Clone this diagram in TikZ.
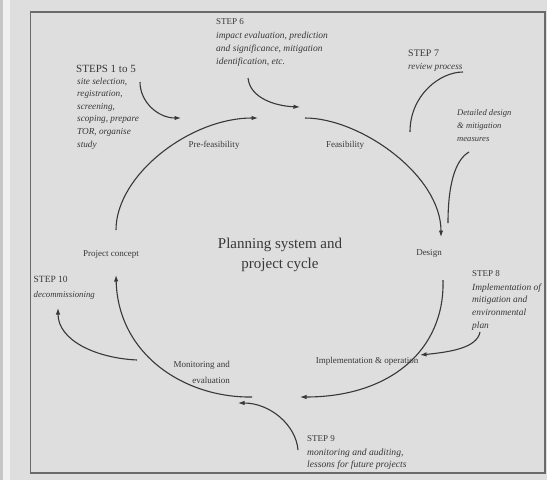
\documentclass[tikz,border=0pt]{standalone}
\usepackage{fontspec}
\setmainfont{Liberation Serif}
\usetikzlibrary{arrows.meta}
\definecolor{paper}{HTML}{DEDEDE}
\definecolor{stripA}{HTML}{C6C6C6}
\definecolor{stripB}{HTML}{F0F0F0}
\definecolor{ink}{HTML}{383838}
\definecolor{framec}{HTML}{6A6A6A}
\newcommand{\mylines}[2][l]{\begin{tabular}[t]{@{}#1@{}}#2\end{tabular}}
\begin{document}
\begin{tikzpicture}[x=1pt,y=-1pt,
  arr/.style={draw=ink, line width=1.1pt, -{Latex[length=6.5pt,width=4.5pt]}},
  plainline/.style={draw=ink, line width=1.1pt},
  lbl/.style={text=ink, inner sep=0pt, font=\fontsize{9}{11}\selectfont},
  head/.style={text=ink, inner sep=0pt, anchor=base west},
  desc/.style={text=ink, inner sep=0pt, anchor=base west},
]
% page
\fill[paper] (0,0) rectangle (547,480);
\fill[stripA] (0,0) rectangle (3,480);
\fill[stripB] (3,0) rectangle (9.5,480);
\useasboundingbox (0,0) rectangle (547,480);
\draw[framec, line width=1.6pt] (30.5,12) rectangle (545,473);

% title
\node[text=ink, inner sep=0pt, align=center, font=\fontsize{15}{20}\selectfont] (title) at (280,255)
  {Planning system and\\project cycle};

% cycle labels
\node[lbl] (pre) at (214,145) {Pre-feasibility};
\node[lbl] (feas) at (345,145) {Feasibility};
\node[lbl] (design) at (429,253) {Design};
\node[lbl] (concept) at (111,254) {Project concept};
\node[lbl] (impl) at (367,361) {Implementation \& operation};
\node[lbl, anchor=base east, font=\fontsize{9}{16}\selectfont] (monit) at (230,367)
  {\mylines[r]{Monitoring and\\evaluation}};

% step texts
\node[head, font=\fontsize{11}{13}\selectfont] (s15h) at (76,72) {STEPS 1 to 5};
\node[desc, font=\fontsize{9.2}{12.6}\selectfont\itshape] (s15d) at (77,84)
  {\mylines{site selection,\\registration,\\screening,\\scoping, prepare\\TOR, organise\\study}};

\node[head, font=\fontsize{9}{11}\selectfont] (s6h) at (216,24) {STEP 6};
\node[desc, font=\fontsize{9.5}{13}\selectfont\itshape] (s6d) at (216,38)
  {\mylines{impact evaluation, prediction\\and significance, mitigation\\identification, etc.}};

\node[head, font=\fontsize{10}{12}\selectfont] (s7h) at (408,56) {STEP 7};
\node[desc, font=\fontsize{9.2}{12}\selectfont\itshape] (s7d) at (408,69) {review process};

\node[desc, font=\fontsize{8.6}{13}\selectfont\itshape] (dd) at (457,115)
  {\mylines{Detailed design\\\& mitigation\\measures}};

\node[head, font=\fontsize{9}{11}\selectfont] (s8h) at (472,276) {STEP 8};
\node[desc, font=\fontsize{9.4}{12.7}\selectfont\itshape] (s8d) at (472,290)
  {\mylines{Implementation of\\mitigation and\\environmental\\plan}};

\node[head, font=\fontsize{9}{11}\selectfont] (s9h) at (307,441) {STEP 9};
\node[desc, font=\fontsize{9.6}{12}\selectfont\itshape] (s9d) at (307,455)
  {\mylines{monitoring and auditing,\\lessons for future projects}};

\node[head, font=\fontsize{9.5}{11}\selectfont] (s10h) at (33.5,282) {STEP 10};
\node[desc, font=\fontsize{8.8}{11}\selectfont\itshape] (s10d) at (33.5,297) {decommissioning};

% arc end points
\coordinate (a1s) at (116,230);  \coordinate (a1e) at (258,118);
\coordinate (a2s) at (305,118);  \coordinate (a2e) at (441,237);
\coordinate (a3s) at (443,280);  \coordinate (a3e) at (300,397);
\coordinate (a4s) at (252,397);  \coordinate (a4e) at (116,275);
\coordinate (b15s) at (140,82);  \coordinate (b15e) at (181,118);
\coordinate (b6s) at (248,78);   \coordinate (b6e) at (300,107);
\coordinate (b7s) at (410,132);  \coordinate (b7e) at (463,72);
\coordinate (bdds) at (469,152); \coordinate (bdde) at (448,223);
\coordinate (b8s) at (480,332);  \coordinate (b8e) at (420,355);
\coordinate (b9s) at (298,450);  \coordinate (b9e) at (238,403);
\coordinate (b10s) at (137,360); \coordinate (b10e) at (58,308);

% main cycle
\draw[arr] (a1s) .. controls (116,175) and (190,118) .. (a1e);
\draw[arr] (a2s) .. controls (360,118) and (441,175) .. (a2e);
\draw[arr] (a3s) .. controls (445,350) and (390,397) .. (a3e);
\draw[arr] (a4s) .. controls (185,398) and (118,355) .. (a4e);

% step arrows
\draw[arr] (b15s) .. controls (140,102) and (158,118) .. (b15e);
\draw[arr] (b6s) .. controls (250,98) and (275,106) .. (b6e);
\draw[plainline] (b7s) .. controls (410,95) and (440,72) .. (b7e);
\draw[plainline] (bdds) .. controls (455,160) and (448,185) .. (bdde);
\draw[arr] (b8s) .. controls (477,348) and (450,352) .. (b8e);
\draw[arr] (b9s) .. controls (296,425) and (270,403) .. (b9e);
\draw[arr] (b10s) .. controls (95,358) and (58,340) .. (b10e);
\end{tikzpicture}
\end{document}
